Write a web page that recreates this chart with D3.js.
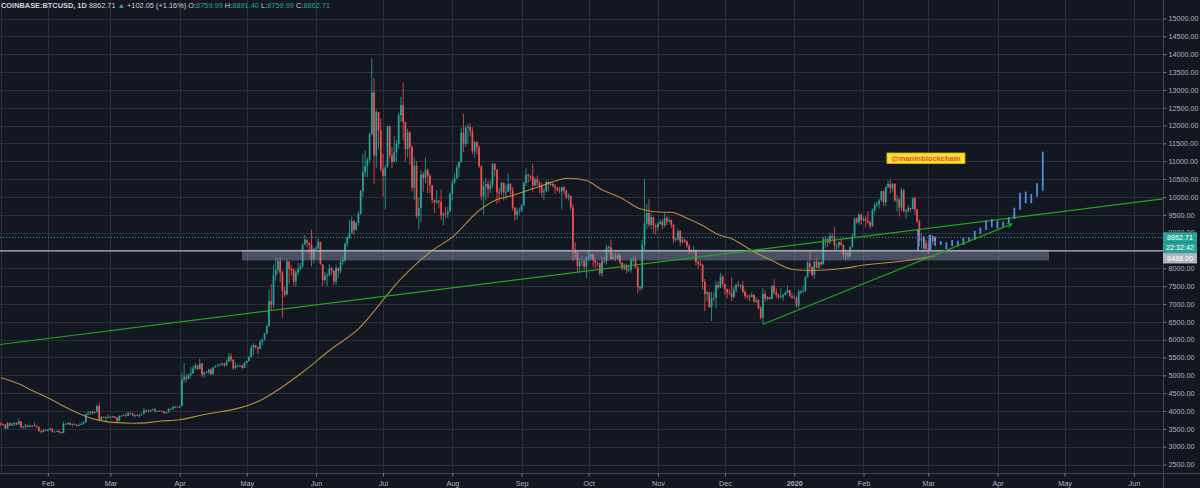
<!DOCTYPE html>
<html><head><meta charset="utf-8">
<script src="https://cdn.jsdelivr.net/npm/d3@7"></script>
<style>html,body{margin:0;padding:0;background:#131722;overflow:hidden}svg{display:block}</style>
</head><body><svg id="chart" width="1200" height="488"></svg>
<script>
// ---------------- DATA ----------------
const firstDate = "2019-01-11";   // first daily candle
const firstOpen = 3640;
// daily closes, Jan 11 2019 -> Mar 4 2020 (one row per month)
const closes = [
3630,3620,3510,3660,3590,3630,3670,3620,3710,3540,3560,3590,3560,3590,3580,3590,3560,3440,3410,3460,3440,
3470,3510,3420,3420,3440,3400,3380,3640,3640,3670,3610,3630,3610,3600,3610,3640,3680,3900,3930,3980,3940,3980,4140,3750,3840,3820,3830,3820,
3830,3850,3810,3720,3860,3870,3880,3860,3950,3930,3870,3890,3880,3880,3920,4020,3990,3990,4030,4050,3990,4000,4010,3990,3940,3960,4060,4050,4120,4120,4100,
4140,4880,4960,4900,5010,5050,5190,5280,5180,5330,5030,5070,5080,5160,5030,5220,5250,5280,5290,5330,5280,5380,5530,5440,5200,5270,5270,5270,5210,5350,
5400,5510,5770,5850,5790,5740,5940,6000,6170,6370,7080,6980,7800,7950,8200,7880,7360,7260,8190,7980,7950,7630,7880,7990,8050,8670,8800,8720,8660,8270,8550,
8550,8740,8120,7670,7790,7800,8000,7930,7630,8010,7920,8180,8230,8690,8860,8980,9330,9080,9270,9520,10160,10700,10860,11030,11750,12930,11160,12380,11870,10770,
10590,10830,11980,11160,10980,11250,11480,12290,12570,12100,11340,11800,11390,10260,10880,9470,9690,10630,10530,10760,10590,10330,9910,9850,9900,9860,9480,9530,9520,9590,10080,
10400,10520,10820,10980,11800,11480,11940,11960,11840,11280,11540,11390,10860,10020,10300,10360,10220,10320,10920,10760,10130,10120,10400,10140,10140,10370,10190,9700,9500,9600,9620,
9760,10390,10620,10590,10580,10320,10490,10400,10330,10120,10160,10420,10360,10360,10310,10260,10190,10160,10270,10180,9990,10030,9700,8530,8430,8060,8190,8210,8040,8300,
8330,8390,8230,8150,8140,7860,8210,8200,8590,8590,8260,8300,8280,8360,8160,8000,8090,7950,7960,8230,8230,8030,7470,7440,8660,9250,9550,9220,9430,9190,9150,
9250,9300,9200,9410,9310,9350,9220,8800,8810,9040,8730,8800,8760,8630,8470,8490,8500,8180,8130,8100,7620,7280,7320,6910,7150,7170,7530,7460,7760,7560,
7420,7320,7300,7200,7400,7540,7510,7520,7340,7220,7200,7190,7250,7070,7110,6880,6620,7280,7150,7190,7140,7510,7320,7250,7200,7200,7250,7310,7390,7220,7170,
7170,6950,7340,7350,7350,7760,8150,8040,7810,8190,8020,8180,8110,8810,8820,8720,8900,8900,8630,8630,8730,8660,8380,8430,8330,8600,8900,9390,9290,9500,9350,
9380,9330,9290,9180,9620,9760,9800,9900,10160,9850,10270,10360,10240,10360,9900,9930,9700,10180,9600,9600,9690,9660,9960,9650,9310,8780,8810,8700,8540,
8520,8910,8760.66,8862.71];
const highs = [
3690,3650,3630,3700,3670,3680,3680,3680,3780,3720,3580,3640,3610,3610,3600,3680,3600,3560,3450,3490,3490,
3490,3520,3510,3440,3460,3460,3420,3700,3660,3680,3680,3650,3660,3630,3650,3680,3700,3950,4000,3990,4010,3990,4170,4210,3860,3840,3850,3900,
3860,3860,3860,3830,3880,3900,3910,3940,3970,3950,3940,3900,3910,3920,3930,4080,4030,4050,4040,4070,4080,4010,4020,4010,4000,3970,4080,4070,4130,4140,4120,
4150,5080,5340,5040,5050,5230,5270,5340,5280,5470,5350,5100,5120,5180,5190,5240,5290,5320,5340,5350,5350,5450,5620,5620,5450,5360,5310,5300,5300,5380,
5420,5540,5850,5900,5840,5800,6000,6030,6180,6430,7400,7560,8100,8300,8290,8300,7930,7480,8250,8190,8080,8010,7960,8150,8140,8700,8930,8800,8730,9080,8580,
8620,8830,8740,8110,7900,7870,8120,8040,7950,8100,8020,8240,8320,8710,8900,9360,9450,9340,9300,9600,10200,11200,11300,11100,11800,13880,13320,12450,12380,12200,
11200,10900,12000,12000,11400,11700,11600,12350,12800,13200,12100,11900,11850,11450,11100,11000,9980,10750,10700,11100,10800,10650,10330,9930,10190,9890,10200,9570,9720,9720,10120,
10480,10650,10900,11000,11950,12330,12000,12050,12050,11950,11570,11550,11450,10880,10450,10530,10450,10470,10950,10950,10780,10250,10430,10400,10350,10650,10380,10280,9700,9680,9700,
9800,10430,10800,10650,10600,10930,10550,10600,10450,10400,10250,10450,10450,10430,10390,10360,10280,10280,10300,10300,10190,10100,10040,9800,8730,8480,8280,8340,8230,8330,
8500,8400,8400,8230,8170,8160,8320,8330,8660,8650,8800,8420,8440,8400,8420,8170,8130,8130,8100,8290,8330,8330,8050,7500,8800,10500,9800,9940,9540,9440,9250,
9290,9380,9370,9550,9470,9430,9370,9250,8880,9110,9070,8880,8820,8780,8670,8530,8620,8500,8200,8220,8120,7700,7370,7350,7340,7340,7650,7630,7870,7820,
7560,7430,7420,7750,7490,7570,7640,7550,7650,7400,7260,7270,7320,7280,7190,7140,6940,7440,7370,7220,7190,7520,7690,7440,7280,7440,7280,7360,7520,7400,7320,
7260,7220,7410,7390,7500,7780,8210,8450,8050,8200,8300,8190,8190,8890,8900,8850,9000,8980,9170,8700,8760,8790,8670,8520,8450,8600,8970,9420,9430,9550,9530,
9440,9470,9600,9320,9680,9850,9870,9950,10170,10180,10300,10450,10500,10390,10390,10050,9960,10250,10230,9660,9770,9700,9990,10000,9660,9370,8980,8900,8800,
8760,8950,8920,8891.40];
const lows = [
3580,3590,3480,3500,3580,3580,3580,3600,3620,3510,3510,3500,3550,3540,3550,3570,3520,3400,3370,3400,3430,
3420,3450,3400,3400,3410,3390,3370,3370,3610,3610,3600,3560,3590,3570,3590,3610,3620,3670,3880,3900,3900,3930,3960,3720,3740,3800,3690,3800,
3810,3800,3800,3690,3710,3840,3860,3830,3860,3900,3850,3820,3860,3820,3880,3920,3970,3960,3980,4010,3960,3980,3980,3980,3910,3920,3960,4030,4040,4090,4090,
4090,4140,4800,4800,4890,4960,5050,5170,5150,5160,4960,4930,5060,5040,5000,5020,5210,5250,5250,5280,5230,5260,5370,5380,5140,5180,5230,5240,5170,5200,
5330,5390,5500,5560,5740,5600,5740,5840,5990,6150,6370,6800,6880,7650,7840,7600,6600,7190,7260,7560,7800,7520,7480,7800,7950,8000,8650,8580,8420,8050,8130,
8480,8550,8090,7500,7600,7500,7780,7830,7540,7540,7720,7850,8100,8160,8600,8830,8980,8930,9050,9200,9510,10000,10560,10550,10950,11730,10350,10800,11350,10700,
10000,9650,10830,11070,10800,10980,11000,11350,12100,11580,11000,11100,10900,10150,9900,9400,9080,9300,10150,10380,10100,10100,9830,9550,9800,9680,9360,9200,9400,9410,9580,
9900,10350,10500,10550,10950,11250,11400,11500,11700,11200,11100,11200,10800,9900,9500,9900,9980,10100,10250,10570,9800,9850,10050,9900,9930,10150,10050,9620,9330,9360,9500,
9580,9750,10300,10400,10450,10150,10300,10300,10100,10000,9900,10140,10150,10300,10260,10080,10150,10100,9650,10060,9940,9900,9620,8200,8250,7900,7870,8050,7900,7720,
8200,8230,8050,8000,8050,7780,7770,8130,8100,8450,8240,8270,8200,8250,8100,7930,7940,7850,7900,7880,8160,8000,7300,7360,7400,8500,9100,9150,9100,8980,8950,
9050,9220,9080,9150,9200,9270,9130,8700,8750,8790,8620,8700,8700,8570,8400,8450,8410,8080,8000,8050,7400,6800,7070,6890,6520,7070,6880,7400,7440,7470,
7250,7160,7250,7080,7160,7320,7480,7430,7300,7150,7130,7070,7190,7030,7020,6840,6560,6430,7050,7090,7110,7130,7260,7160,7120,7160,7080,7230,7280,7190,7150,
7140,6900,6850,7270,7310,7350,7730,7860,7750,7700,8000,7980,8060,8110,8580,8600,8680,8800,8480,8520,8550,8630,8290,8220,8280,8300,8580,8880,9250,9220,9230,
9310,9150,9230,9110,9160,9530,9720,9670,9870,9740,9740,10260,10100,10130,9860,9590,9450,9600,9560,9400,9560,9570,9650,9500,9270,8620,8550,8450,8530,
8400,8510,8660,8759.99];

// 100-day moving average
const maDates = ["2019-01-11","2019-01-19","2019-01-25","2019-02-02","2019-02-09","2019-02-17","2019-02-23","2019-03-02","2019-03-11","2019-03-17","2019-03-23","2019-04-01","2019-04-10","2019-05-07","2019-05-26","2019-06-07","2019-06-20","2019-07-09","2019-07-23","2019-08-01","2019-08-13","2019-08-20","2019-08-28","2019-09-09","2019-09-22","2019-09-30","2019-10-07","2019-10-15","2019-10-24","2019-11-03","2019-11-07","2019-11-13","2019-11-21","2019-11-28","2019-12-04","2019-12-13","2019-12-22","2020-01-01","2020-01-09","2020-01-22","2020-02-02","2020-02-17","2020-02-26","2020-03-04"];
const maValues = [4930,4760,4575,4340,4105,3875,3750,3680,3657,3668,3714,3752,3873,4294,5087,5695,6303,7705,8498,8871,9619,9899,10040,10290,10524,10460,10199,9992,9667,9571,9571,9431,9198,8946,8826,8498,8218,7957,7937,7985,8097,8189,8265,8350];

// projected "bars pattern" (blue HL bars)
const patternDates = ["2020-02-25T11:00","2020-02-28T00:00","2020-03-01T13:00","2020-03-04T01:00","2020-03-06T14:00","2020-03-09T02:00","2020-03-11T16:00","2020-03-14T05:00","2020-03-16T17:00","2020-03-19T06:00","2020-03-21T19:00","2020-03-24T07:00","2020-03-26T20:00","2020-03-29T10:00","2020-03-31T22:00","2020-04-03T11:00","2020-04-06T00:00","2020-04-08T12:00","2020-04-11T01:00","2020-04-13T14:00","2020-04-16T02:00","2020-04-18T16:00","2020-04-21T05:00"];
const patternHigh = [9092,8897,8932,8885,8764,8728,8792,8772,8856,8868,9053,9137,9333,9372,9333,9305,9428,9697,10118,10146,10081,10381,11267];
const patternLow  = [8512,8560,8512,8624,8652,8531,8624,8604,8652,8744,8792,8960,9072,9148,9120,9165,9260,9380,9633,9821,9821,10006,10174];

// drawings
const longTrend = [["2019-05-01", 6729], ["2020-02-01", 8893]];     // extended both ways
const shortTrend = [["2019-12-18", 6430], ["2020-04-07T11:00", 9245]]; // with arrow
const zoneTop = 8520, zoneBottom = 8220, zoneStart = "2019-04-28T21:00", zoneEnd = "2020-04-24";
const hLinePrice = 8488;
const lastPrice = 8862.71;
const countdown = "22:32:42";
const noteText = "@maninblockchain", noteDate = "2020-02-11T12:00", notePrice = 11230;
const priceTicks = d3.range(2500, 15001, 500);
const headerParts = [["COINBASE:BTCUSD, 1D ", "#d1d4dc", "bold"], ["8862.71 ", "#d1d4dc", "normal"], ["\u25B2 ", "#26a69a", "normal"], ["+102.05 (+1.16%) ", "#d1d4dc", "normal"], ["O:", "#d1d4dc", "normal"], ["8759.99 ", "#26a69a", "normal"], ["H:", "#d1d4dc", "normal"], ["8891.40 ", "#26a69a", "normal"], ["L:", "#d1d4dc", "normal"], ["8759.99 ", "#26a69a", "normal"], ["C:", "#d1d4dc", "normal"], ["8862.71", "#26a69a", "normal"]];

// ---------------- CHART ----------------
const W = 1200, H = 488, PW = 1163, PH = 473;
const UP = "#26a69a", DOWN = "#ef5350", GRID = "#2a2e39", TXT = "#b2b5be";
const FONT = "'Liberation Sans', Arial, sans-serif";
const parse = s => new Date(s.length > 10 ? s + "Z" : s + "T00:00Z");
const DAY = 864e5;

const x = d3.scaleUtc().domain([Date.UTC(2019,1,1), Date.UTC(2020,5,1)]).range([47.8, 1133.9]);
const y = d3.scaleLinear().domain([2500, 15000]).range([464.5, 18.5]);

const t0 = parse(firstDate).getTime();
const candles = closes.map((c, i) => ({
  date: new Date(t0 + i * DAY),
  o: i === 0 ? firstOpen : closes[i - 1],
  h: highs[i], l: lows[i], c
}));

const svg = d3.select("#chart").style("font-family", FONT);
const defs = svg.append("defs");
svg.append("rect").attr("width", W).attr("height", H).attr("fill", "#131722");
defs.append("clipPath").attr("id", "plot").append("rect").attr("width", PW).attr("height", PH);
const g = svg.append("g").attr("clip-path", "url(#plot)");

// grid
const months = d3.utcMonth.range(new Date(Date.UTC(2019,1,1)), new Date(Date.UTC(2020,6,1)));
g.append("g").selectAll("line").data(priceTicks).join("line")
  .attr("x1", 0).attr("x2", PW).attr("y1", d => Math.round(y(d)) + 0.5).attr("y2", d => Math.round(y(d)) + 0.5)
  .attr("stroke", GRID).attr("stroke-width", 1);
g.append("g").selectAll("line").data(months).join("line")
  .attr("y1", 0).attr("y2", PH).attr("x1", d => Math.round(x(d)) + 0.5).attr("x2", d => Math.round(x(d)) + 0.5)
  .attr("stroke", GRID).attr("stroke-width", 1);
g.append("line").attr("x1", 1.5).attr("x2", 1.5).attr("y1", 0).attr("y2", PH).attr("stroke", GRID);

// candles
const cg = g.append("g");
cg.selectAll("line").data(candles).join("line")
  .attr("x1", d => x(d.date)).attr("x2", d => x(d.date))
  .attr("y1", d => y(d.h)).attr("y2", d => y(d.l))
  .attr("stroke", d => d.c >= d.o ? UP : DOWN).attr("stroke-width", 0.8);
cg.selectAll("rect").data(candles).join("rect")
  .attr("x", d => x(d.date) - 0.85).attr("width", 1.7)
  .attr("y", d => y(Math.max(d.o, d.c)))
  .attr("height", d => Math.max(0.8, Math.abs(y(d.o) - y(d.c))))
  .attr("fill", d => d.c >= d.o ? UP : DOWN);

// support zone
g.append("rect")
  .attr("x", x(parse(zoneStart))).attr("width", x(parse(zoneEnd)) - x(parse(zoneStart)))
  .attr("y", y(zoneTop)).attr("height", y(zoneBottom) - y(zoneTop))
  .attr("fill", "rgba(150,160,190,0.42)");
// horizontal line
g.append("line").attr("x1", 0).attr("x2", PW).attr("y1", y(hLinePrice)).attr("y2", y(hLinePrice))
  .attr("stroke", "#b4b7c0").attr("stroke-width", 1.3);

// moving average
const ma = maDates.map((d, i) => [parse(d), maValues[i]]);
g.append("path").datum(ma)
  .attr("d", d3.line().x(d => x(d[0])).y(d => y(d[1])).curve(d3.curveMonotoneX))
  .attr("fill", "none").attr("stroke", "#c49a3a").attr("stroke-width", 1.1).attr("opacity", 0.9);

// long trend line, extended to plot edges
{
  const a = longTrend.map(p => [parse(p[0]).getTime(), p[1]]);
  const slope = (a[1][1] - a[0][1]) / (a[1][0] - a[0][0]);
  const tL = x.invert(0).getTime(), tR = x.invert(PW).getTime();
  const pts = [[tL, a[0][1] + slope * (tL - a[0][0])], [tR, a[0][1] + slope * (tR - a[0][0])]];
  g.append("line").attr("x1", x(new Date(pts[0][0]))).attr("y1", y(pts[0][1]))
    .attr("x2", x(new Date(pts[1][0]))).attr("y2", y(pts[1][1]))
    .attr("stroke", "#1fa51f").attr("stroke-width", 1.2);
}

// bars pattern
g.append("g").selectAll("line").data(patternDates.map((d, i) => ({ d: parse(d), h: patternHigh[i], l: patternLow[i] }))).join("line")
  .attr("x1", d => x(d.d)).attr("x2", d => x(d.d)).attr("y1", d => y(d.h)).attr("y2", d => y(d.l))
  .attr("stroke", "#5b9cf6").attr("stroke-width", 1.7).attr("opacity", 0.92);

// short trend line with arrow
defs.append("marker").attr("id", "arr").attr("viewBox", "0 0 10 10").attr("refX", 9).attr("refY", 5)
  .attr("markerWidth", 5).attr("markerHeight", 5).attr("orient", "auto")
  .append("path").attr("d", "M1,1 L9,5 L1,9").attr("fill", "none").attr("stroke", "#1fa51f").attr("stroke-width", 1.6);
g.append("line")
  .attr("x1", x(parse(shortTrend[0][0]))).attr("y1", y(shortTrend[0][1]))
  .attr("x2", x(parse(shortTrend[1][0]))).attr("y2", y(shortTrend[1][1]))
  .attr("stroke", "#1fa51f").attr("stroke-width", 1.2).attr("marker-end", "url(#arr)");

// last price dotted line
g.append("line").attr("x1", 0).attr("x2", PW).attr("y1", y(lastPrice)).attr("y2", y(lastPrice))
  .attr("stroke", UP).attr("stroke-width", 1).attr("stroke-dasharray", "1,2");

// text note
{
  const lg = g.append("g").attr("transform", `translate(${x(parse(noteDate))},${y(notePrice)})`);
  lg.append("rect").attr("x", 0).attr("y", 0).attr("width", 78).attr("height", 10.5)
    .attr("fill", "#f5e430").attr("stroke", "#d8b800").attr("stroke-width", 0.8);
  lg.append("text").attr("x", 39).attr("y", 7.8).attr("text-anchor", "middle")
    .attr("font-size", 7.6).attr("font-weight", "bold").attr("fill", "#f0483e").text(noteText);
}

// axes separators
svg.append("line").attr("x1", PW + 0.5).attr("x2", PW + 0.5).attr("y1", 0).attr("y2", H).attr("stroke", "#434651");
svg.append("line").attr("x1", 0).attr("x2", W).attr("y1", PH + 0.5).attr("y2", PH + 0.5).attr("stroke", "#434651");

// price axis: labels are clipped where the coloured price labels sit
const ly = y(lastPrice);
const boxTop = ly - 5.2, boxBottom = Math.max(y(hLinePrice), ly + 20.8) + 5.2;
const axClip = defs.append("clipPath").attr("id", "axclip");
axClip.append("rect").attr("x", PW).attr("y", 0).attr("width", W - PW).attr("height", boxTop);
axClip.append("rect").attr("x", PW).attr("y", boxBottom).attr("width", W - PW).attr("height", H - boxBottom);
const ya = svg.append("g").attr("clip-path", "url(#axclip)").append("g").attr("transform", `translate(${PW + 0.5},0)`)
  .call(d3.axisRight(y).tickValues(priceTicks.filter(p => y(p) < boxTop + 3 || y(p) > boxBottom + 1))
    .tickFormat(d3.format(".2f")).tickSize(3).tickPadding(2));
ya.select(".domain").remove();
ya.selectAll("line").attr("stroke", "#787b86");
ya.selectAll("text").attr("fill", TXT).attr("font-size", 7.2).attr("font-family", FONT);

// time axis
const xa = svg.append("g").attr("transform", `translate(0,${PH + 0.5})`)
  .call(d3.axisBottom(x).tickValues(months).tickFormat(d => d.getUTCMonth() === 0 ? String(d.getUTCFullYear()) : d3.utcFormat("%b")(d)).tickSize(3).tickPadding(4));
xa.select(".domain").remove();
xa.selectAll("line").attr("stroke", "#787b86");
xa.selectAll("text").attr("fill", TXT).attr("font-size", 7.2).attr("font-family", FONT)
  .attr("font-weight", d => d.getUTCMonth() === 0 ? "bold" : "normal");

// axis price labels
function axisLabel(cy, fill, textFill, txt) {
  svg.append("rect").attr("x", PW).attr("y", cy - 5.2).attr("width", 34).attr("height", 10.4).attr("fill", fill);
  svg.append("text").attr("x", PW + 17).attr("y", cy + 2.6).attr("text-anchor", "middle")
    .attr("font-size", 7.2).attr("fill", textFill).text(txt);
}
axisLabel(ly, UP, "#ffffff", d3.format(".2f")(lastPrice));
axisLabel(ly + 10.4, UP, "#ffffff", countdown);
axisLabel(Math.max(y(hLinePrice), ly + 20.8), "#b2b5be", "#ffffff", d3.format(".2f")(hLinePrice));

// header
const ht = svg.append("text").attr("x", 1).attr("y", 7.5).attr("font-size", 7.4);
headerParts.forEach(p => ht.append("tspan").attr("fill", p[1]).attr("font-weight", p[2]).text(p[0]));
</script></body></html>
